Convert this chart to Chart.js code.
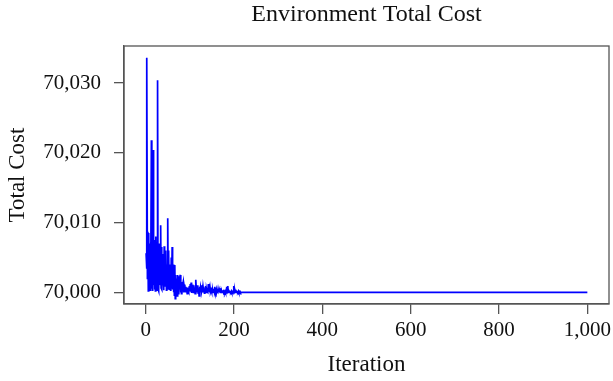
<!DOCTYPE html>
<html>
<head>
<meta charset="utf-8">
<script src="https://cdn.jsdelivr.net/npm/chart.js@4/dist/chart.umd.min.js"></script>
<style>
  html, body { margin: 0; padding: 0; background: #fff; }
  #wrap { width: 613px; height: 381px; }
</style>
</head>
<body>
<div id="wrap"><canvas id="costChart" width="613" height="381"></canvas></div>
<script>
// --- DATA ---
// cost per iteration (iterations 1..220)
const earlyCosts = [
  70005.6, 70003.4, 70033.6, 70002.0, 70008.7, 70000.2, 70008.5, 70001.0, 70007.0, 70000.3,
  70006.0, 70002.5, 70021.8, 70000.5, 70008.0, 70000.2, 70020.4, 70001.0, 70007.5, 70000.4,
  70005.0, 70000.2, 70008.0, 70000.6, 70003.0, 70000.3, 70030.4, 70000.5, 70004.5, 70000.2,
  70007.0, 70001.0, 70005.0, 70009.6, 70000.6, 70006.5, 70000.4, 70004.0, 70001.0, 70005.5,
  70000.3, 70006.6, 70000.8, 70005.0, 70002.0, 70006.0, 70000.3, 70004.0, 70001.0, 70010.6,
  70000.5, 70006.0, 70001.0, 70004.0, 70000.3, 70003.5, 70000.2, 70005.0, 70001.0, 70006.5,
  70000.4, 70003.0, 70000.0, 70004.0, 69999.6, 70003.9, 69999.1, 70002.5, 70000.2, 70002.0,
  69999.5, 70002.5, 70000.3, 70002.3, 69999.7, 70002.2, 70000.4, 70002.5, 70000.0, 70001.6,
  69999.8, 70001.5, 70000.3, 70001.2, 70001.5, 70000.0, 70001.0, 70000.4, 70001.1, 70000.1,
  70000.8, 70000.3, 70000.6, 69999.8, 70000.7, 70000.2, 70000.5, 70000.0, 70000.9, 70000.2,
  70001.2, 70000.1, 70001.4, 69999.9, 70000.9, 70000.2, 70001.1, 70000.0, 70001.0, 70000.3,
  70000.7, 69999.8, 70001.3, 70001.8, 70000.1, 70000.9, 70000.2, 70001.0, 69999.9, 70000.6,
  69999.5, 70000.8, 70000.1, 70000.7, 70000.0, 70001.0, 70000.2, 70000.5, 70000.0, 70000.8,
  70000.1, 70000.4, 69999.9, 70000.6, 70000.1, 70000.9, 70000.0, 70000.4, 70000.1, 70000.3,
  70000.0, 70001.2, 70000.1, 70000.5, 70000.0, 70000.6, 70000.1, 70000.3, 70000.0, 70000.7,
  70000.1, 70000.3, 70000.0, 70000.5, 70000.1, 70000.8, 70000.0, 70000.3, 70000.1, 70000.4,
  70000.0, 70000.2, 70000.1, 70000.5, 70000.0, 70000.3, 70000.1, 70000.2, 70000.0, 70000.6,
  70000.1, 70000.2, 70000.0, 70000.3, 70000.1, 70000.2, 70000.0, 70000.1, 70000.0, 70000.2,
  70000.0, 70000.1, 70000.0, 70000.8, 70000.0, 70000.9, 70000.1, 70000.2, 70000.0, 70000.1,
  70000.0, 70000.1, 70000.0, 70000.2, 70000.0, 70000.1, 70000.0, 70000.1, 70000.0, 70000.9,
  70000.1, 70000.3, 70000.0, 70000.1, 70000.0, 70000.1, 70000.0, 70000.1, 70000.0, 70000.2,
  70000.0, 70000.1, 70000.0, 70000.1, 70000.0, 70000.0, 70000.1, 70000.0, 70000.0, 70000.0
];
// flat after convergence
const tailIterations = [1000];
const tailCosts = [70000.0];

const xTicks = [0, 200, 400, 600, 800, 1000];
const yTicks = [70000, 70010, 70020, 70030];

const points = earlyCosts.map((c, i) => ({ x: i + 1, y: c }));
tailIterations.forEach((it, i) => points.push({ x: it, y: tailCosts[i] }));

// --- CHART ---
const FONT = "'Liberation Serif', 'Times New Roman', serif";
const AXIS = '#555';

// R-style box around the plot region
const frame = {
  id: 'frame',
  afterDraw(chart) {
    const { ctx, chartArea: a } = chart;
    ctx.save();
    ctx.strokeStyle = AXIS;
    ctx.lineWidth = 1.3;
    ctx.strokeRect(a.left, a.top, a.right - a.left, a.bottom - a.top);
    ctx.restore();
  }
};

new Chart(document.getElementById('costChart'), {
  type: 'line',
  data: {
    datasets: [{
      data: points,
      borderColor: '#0000ff',
      borderWidth: 1.7,
      pointRadius: 0,
      tension: 0
    }]
  },
  options: {
    responsive: false,
    animation: false,
    layout: { padding: { left: 0, right: 4, top: 0, bottom: 0 } },
    plugins: {
      legend: { display: false },
      tooltip: { enabled: false },
      title: {
        display: true,
        text: 'Environment Total Cost',
        fullSize: false,
        color: '#111',
        font: { family: FONT, size: 24, weight: 'normal' },
        padding: { top: 0, bottom: 17.2 }
      }
    },
    scales: {
      x: {
        type: 'linear',
        min: -49,
        max: 1049,
        afterBuildTicks: s => { s.ticks = xTicks.map(v => ({ value: v })); },
        afterFit: s => { s.height = 77; s.paddingLeft = 0; s.paddingRight = 0; },
        grid: { drawOnChartArea: false, drawTicks: true, tickLength: 10, color: AXIS, lineWidth: 1.3 },
        border: { display: true, color: AXIS, width: 1.3 },
        ticks: {
          color: '#111', padding: 4, maxRotation: 0, autoSkip: false,
          font: { family: FONT, size: 21 },
          callback: v => v.toLocaleString('en-US')
        },
        title: {
          display: true, text: 'Iteration', color: '#111',
          font: { family: FONT, size: 23 },
          padding: { top: 0, bottom: 2 }
        }
      },
      y: {
        min: 69998.33,
        max: 70035.3,
        afterBuildTicks: s => { s.ticks = yTicks.map(v => ({ value: v })); },
        afterFit: s => { s.width = 124; s.paddingTop = 0; s.paddingBottom = 0; },
        grid: { drawOnChartArea: false, drawTicks: true, tickLength: 10, color: AXIS, lineWidth: 1.3 },
        border: { display: true, color: AXIS, width: 1.3 },
        ticks: {
          color: '#111', padding: 13, autoSkip: false,
          font: { family: FONT, size: 21 },
          callback: v => v.toLocaleString('en-US')
        },
        title: {
          display: true, text: 'Total Cost', color: '#111',
          font: { family: FONT, size: 23 },
          padding: { top: 4, bottom: 0 }
        }
      }
    }
  },
  plugins: [frame]
});
</script>
</body>
</html>
